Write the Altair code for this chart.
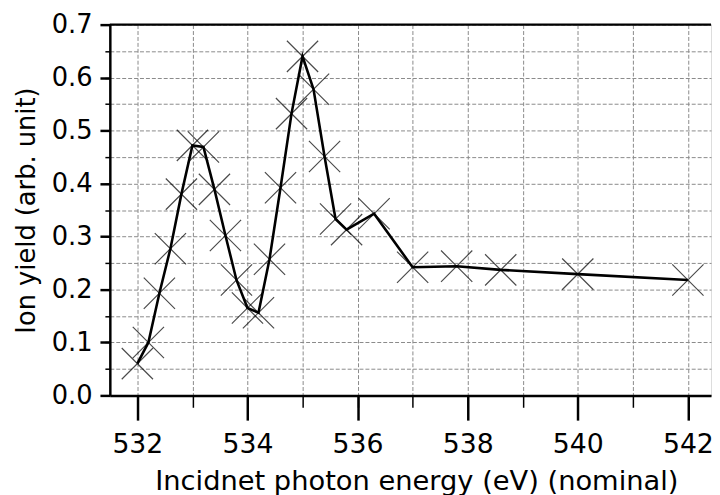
import altair as alt
import pandas as pd

energy = [532.0, 532.2, 532.4, 532.6, 532.8, 533.0, 533.2, 533.4, 533.6, 533.8,
          534.0, 534.2, 534.4, 534.6, 534.8, 535.0, 535.2, 535.4, 535.6, 535.8,
          536.3, 537.0, 537.8, 538.6, 540.0, 542.0]
ion_yield = [0.060, 0.100, 0.193, 0.277, 0.380, 0.472, 0.469, 0.389, 0.302, 0.218,
             0.165, 0.156, 0.257, 0.392, 0.532, 0.640, 0.578, 0.451, 0.333, 0.313,
             0.343, 0.242, 0.244, 0.237, 0.229, 0.218]

x_major = [532, 534, 536, 538, 540, 542]
x_minor = [532, 533, 534, 535, 536, 537, 538, 539, 540, 541, 542]
y_major = [0.0, 0.1, 0.2, 0.3, 0.4, 0.5, 0.6, 0.7]
y_minor = [0.0, 0.05, 0.1, 0.15, 0.2, 0.25, 0.3, 0.35, 0.4, 0.45, 0.5, 0.55, 0.6, 0.65, 0.7]

df = pd.DataFrame({"energy": energy, "yield": ion_yield})

FONT = "DejaVu Sans"
xscale = alt.Scale(domain=[531.5, 542.42], nice=False, zero=False)
yscale = alt.Scale(domain=[0, 0.7], nice=False)

grid_layer = alt.Chart(df).mark_point(opacity=0).encode(
    x=alt.X("energy:Q", scale=xscale, axis=alt.Axis(
        orient="bottom", values=x_minor, labels=False, title=None, domain=False,
        tickSize=12, tickWidth=1.5, tickColor="black",
        grid=True, gridDash=[4, 2], gridColor="#8a8a8a", gridWidth=1)),
    y=alt.Y("yield:Q", scale=yscale, axis=alt.Axis(
        orient="left", values=y_minor, labels=False, title=None, domain=False,
        tickSize=5, tickWidth=1.5, tickColor="black",
        grid=True, gridDash=[4, 2], gridColor="#8a8a8a", gridWidth=1)),
)

line = alt.Chart(df).mark_line(color="black", strokeWidth=2.6).encode(
    x=alt.X("energy:Q", scale=xscale, axis=alt.Axis(
        orient="bottom", values=x_major, format="d",
        title="Incidnet photon energy (eV) (nominal)",
        labelFont=FONT, labelFontSize=27, labelColor="black", labelPadding=12,
        titleFont=FONT, titleFontSize=27.6, titleFontWeight="normal", titleColor="black",
        titlePadding=10, titleX=310,
        tickSize=25, tickWidth=2.5, tickColor="black",
        domainColor="black", domainWidth=2.5, grid=False)),
    y=alt.Y("yield:Q", scale=yscale, axis=alt.Axis(
        orient="left", values=y_major, format=".1f",
        title="Ion yield (arb. unit)",
        labelFont=FONT, labelFontSize=26, labelColor="black", labelPadding=8,
        titleFont=FONT, titleFontSize=26, titleFontWeight="normal", titleColor="black",
        titlePadding=12,
        tickSize=10, tickWidth=2.5, tickColor="black",
        domainColor="black", domainWidth=2.5, grid=False)),
)

points = alt.Chart(df).mark_point(
    shape="M-1,-1L1,1M-1,1L1,-1", size=1000, filled=False,
    stroke="black", strokeWidth=1.2
).encode(
    x=alt.X("energy:Q", scale=xscale, axis=None),
    y=alt.Y("yield:Q", scale=yscale, axis=None),
)

top_spine = alt.Chart(pd.DataFrame({"a": [0]})).mark_rule(
    color="black", strokeWidth=2.5
).encode(x=alt.value(0), x2=alt.value(608), y=alt.value(0))

chart = alt.layer(grid_layer, line, points, top_spine).resolve_axis(
    x="independent", y="independent"
).properties(
    width=608, height=375,
    autosize=alt.AutoSizeParams(type="none"),
    padding={"left": 103, "top": 14, "right": 1, "bottom": 106},
).configure_view(stroke=None).configure(background="white")

chart.save("out.html", embed_options={"renderer": "svg", "actions": False})
